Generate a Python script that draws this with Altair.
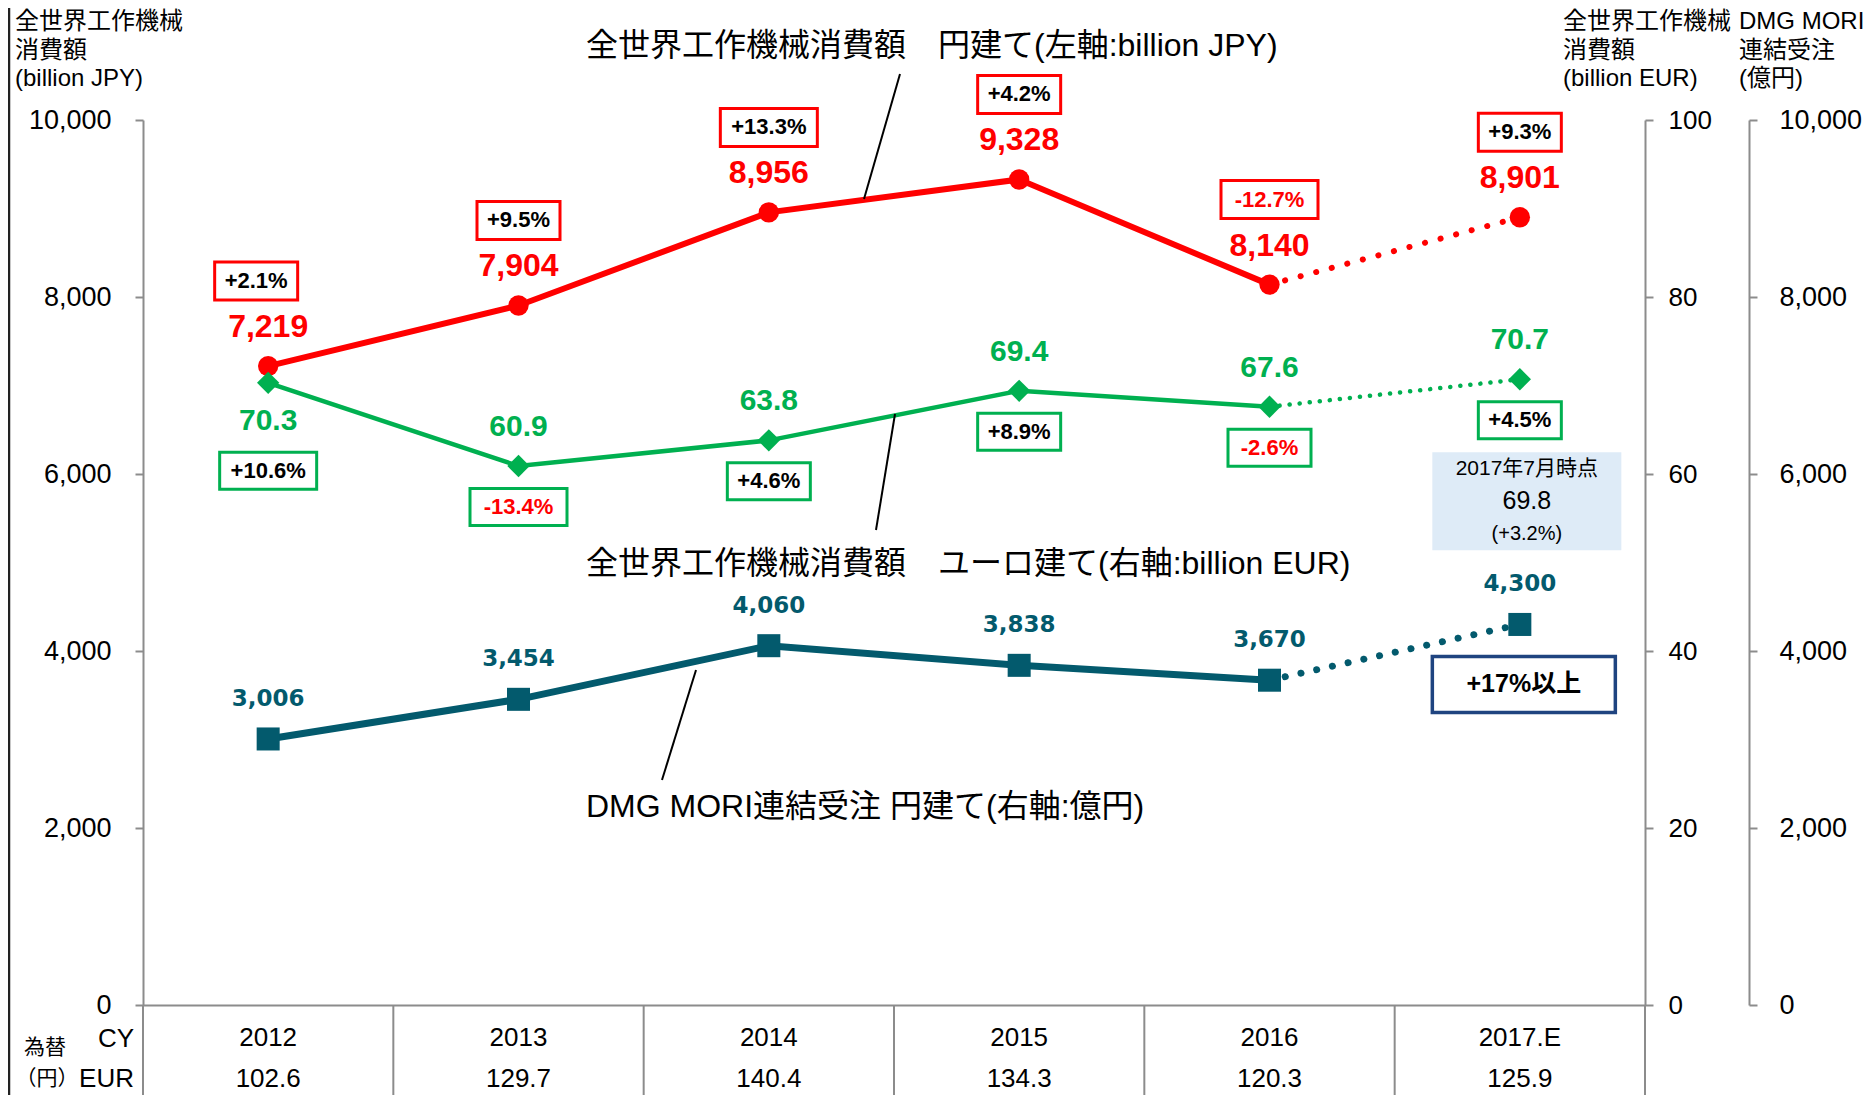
import altair as alt
import pandas as pd

# ---------------- data ----------------
years = ["2012", "2013", "2014", "2015", "2016", "2017.E"]
jpy_values = [7219, 7904, 8956, 9328, 8140, 8901]
jpy_change = ["+2.1%", "+9.5%", "+13.3%", "+4.2%", "-12.7%", "+9.3%"]
eur_values = [70.3, 60.9, 63.8, 69.4, 67.6, 70.7]
eur_change = ["+10.6%", "-13.4%", "+4.6%", "+8.9%", "-2.6%", "+4.5%"]
dmg_values = [3006, 3454, 4060, 3838, 3670, 4300]
fx_eur = ["102.6", "129.7", "140.4", "134.3", "120.3", "125.9"]
dmg_2017_note = "+17%以上"
eur_july_note = ["2017年7月時点", "69.8", "(+3.2%)"]
series_titles = [
    "全世界工作機械消費額\u2002\u2002円建て(左軸:billion JPY)",
    "全世界工作機械消費額\u2002\u2002ユーロ建て(右軸:billion EUR)",
    "DMG MORI連結受注 円建て(右軸:億円)",
]
axis_headers = [
    "全世界工作機械\n消費額\n(billion JPY)",
    "全世界工作機械\n消費額\n(billion EUR)",
    "DMG MORI\n連結受注\n(億円)",
]
row_labels = ["CY", "EUR"]
fx_caption = ["為替", "（円）"]
jpy_ticks = [0, 2000, 4000, 6000, 8000, 10000]
eur_ticks = [0, 20, 40, 60, 80, 100]

# ---------------- style ----------------
FONT = "Liberation Sans, Noto Sans CJK JP"
RED = "#FF0000"
GREEN = "#00B050"
TEAL = "#035A6D"
NAVY = "#1F4480"
GRAY = "#8C8C8C"
W, H = 1502, 885

df = pd.DataFrame({
    "year": years,
    "idx": list(range(len(years))),
    "jpy": jpy_values,
    "jc": jpy_change,
    "eur": eur_values,
    "ec": eur_change,
    "dmg": dmg_values,
    "fx": fx_eur,
})
one = pd.DataFrame({"a": [0]})

XAXIS = alt.Axis(labelAngle=0, labelFontSize=26, labelFont=FONT, labelColor="black",
                 ticks=False, domainColor=GRAY, domainWidth=2, labelPadding=19,
                 grid=False, title=None)


def X(band=0.5):
    return alt.X("year:N", sort=years, bandPosition=band,
                 scale=alt.Scale(type="band", paddingInner=0, paddingOuter=0),
                 axis=XAXIS, title=None)


def yaxis(orient, values, fmt, pad, offset=0, size=27):
    return alt.Axis(orient=orient, values=values, format=fmt, labelFontSize=size,
                    labelFont=FONT, labelColor="black", tickSize=8, tickColor=GRAY,
                    tickWidth=2, domainColor=GRAY, domainWidth=2, labelPadding=pad,
                    grid=False, title=None, offset=offset)


YJ = alt.Y("jpy:Q", scale=alt.Scale(domain=[0, 10000], nice=False),
           axis=yaxis("left", jpy_ticks, ",d", 24))
YE = alt.Y("eur:Q", scale=alt.Scale(domain=[0, 100], nice=False),
           axis=yaxis("right", eur_ticks, "d", 15, size=26))
YD = alt.Y("dmg:Q", scale=alt.Scale(domain=[0, 10000], nice=False),
           axis=yaxis("right", jpy_ticks, ",d", 22, 104))


def change_boxes(chg, y_enc, stroke, dy, dx=0, cond=None, h=38):
    base = alt.Chart()
    if cond:
        base = base.transform_filter(cond)
    base = base.transform_calculate(
        bw=f"14*length(datum.{chg})+13"
    ).transform_calculate(
        shp=f"'M-1,' + (-{h}/datum.bw) + 'H1V' + ({h}/datum.bw) + 'H-1Z'",
        sz="datum.bw*datum.bw",
        tc=f"indexof(datum.{chg}, '-') == 0 ? '{RED}' : 'black'",
    )
    box = base.mark_point(filled=True, fill="white", stroke=stroke, strokeWidth=3,
                          opacity=1, xOffset=dx, yOffset=dy).encode(
        x=X(), y=y_enc,
        shape=alt.Shape("shp:N", scale=None),
        size=alt.Size("sz:Q", scale=None))
    txt = base.mark_text(font=FONT, fontSize=22, fontWeight="bold", dx=dx, dy=dy,
                         baseline="middle").encode(
        x=X(), y=y_enc, text=f"{chg}:N", color=alt.Color("tc:N", scale=None))
    return [box, txt]


def line_pair(y_enc, color, width, dash):
    solid = alt.Chart().mark_line(color=color, strokeWidth=width).encode(
        x=X(), y=y_enc).transform_filter("datum.idx <= 4")
    dotted = alt.Chart().mark_line(color=color, strokeWidth=width, strokeDash=dash,
                                   strokeCap="round").encode(
        x=X(), y=y_enc).transform_filter("datum.idx >= 4")
    return [solid, dotted]


# ---------------- JPY series (red) ----------------
red = alt.layer(
    *line_pair(YJ, RED, 6, [0.1, 16]),
    alt.Chart().mark_point(shape="circle", filled=True, size=415, color=RED,
                           opacity=1).encode(x=X(), y=YJ),
    alt.Chart().mark_text(font=FONT, fontSize=32, fontWeight="bold", color=RED,
                          dy=-39, baseline="middle").encode(
        x=X(), y=YJ, text=alt.Text("jpy:Q", format=",")),
    *change_boxes("jc", YJ, RED, -85, dx=-12, cond="datum.idx == 0"),
    *change_boxes("jc", YJ, RED, -85, cond="datum.idx > 0"),
    data=df,
)

# ---------------- EUR series (green) ----------------
green = alt.layer(
    *line_pair(YE, GREEN, 4.5, [0.1, 10]),
    alt.Chart().mark_point(shape="diamond", filled=True, size=500, color=GREEN,
                           opacity=1).encode(x=X(), y=YE),
    alt.Chart().mark_text(font=FONT, fontSize=30, fontWeight="bold", color=GREEN,
                          dy=38, baseline="middle").encode(
        x=X(), y=YE, text=alt.Text("eur:Q", format=".1f")).transform_filter("datum.idx == 0"),
    alt.Chart().mark_text(font=FONT, fontSize=30, fontWeight="bold", color=GREEN,
                          dy=-39, baseline="middle").encode(
        x=X(), y=YE, text=alt.Text("eur:Q", format=".1f")).transform_filter("datum.idx > 0"),
    *change_boxes("ec", YE, GREEN, 88, cond="datum.idx == 0", h=37),
    *change_boxes("ec", YE, GREEN, 41, cond="datum.idx > 0", h=37),
    alt.Chart().mark_point(filled=True, fill="#DEEBF7", strokeWidth=0, opacity=1,
                           shape="M-1,-0.5185H1V0.5185H-1Z", size=189 * 189,
                           xOffset=7, yOffset=122).encode(
        x=X(), y=YE).transform_filter("datum.idx == 5"),
    alt.Chart().mark_text(font=FONT, fontSize=21, color="black", dx=7, dy=90,
                          baseline="middle").encode(
        x=X(), y=YE, text=alt.value(eur_july_note[0])).transform_filter("datum.idx == 5"),
    alt.Chart().mark_text(font=FONT, fontSize=25, color="black", dx=7, dy=122,
                          baseline="middle").encode(
        x=X(), y=YE, text=alt.value(eur_july_note[1])).transform_filter("datum.idx == 5"),
    alt.Chart().mark_text(font=FONT, fontSize=20, color="black", dx=7, dy=155,
                          baseline="middle").encode(
        x=X(), y=YE, text=alt.value(eur_july_note[2])).transform_filter("datum.idx == 5"),
    data=df,
)

# ---------------- DMG MORI orders (teal) ----------------
dmg = alt.layer(
    *line_pair(YD, TEAL, 7, [0.1, 16]),
    alt.Chart().mark_point(shape="square", filled=True, size=530, color=TEAL,
                           opacity=1).encode(x=X(), y=YD),
    alt.Chart().mark_text(font="DejaVu Sans", fontSize=23, fontWeight="bold", color=TEAL,
                          dy=-40, baseline="middle").encode(
        x=X(), y=YD, text=alt.Text("dmg:Q", format=",")),
    alt.Chart().mark_point(filled=True, fill="white", stroke=NAVY, strokeWidth=3.5,
                           opacity=1, shape="M-1,-0.306H1V0.306H-1Z", size=183 * 183,
                           xOffset=4, yOffset=60).encode(
        x=X(), y=YD).transform_filter("datum.idx == 5"),
    alt.Chart().mark_text(font=FONT, fontSize=25, fontWeight="bold", color="black",
                          dx=4, dy=60, baseline="middle").encode(
        x=X(), y=YD, text=alt.value(dmg_2017_note)).transform_filter("datum.idx == 5"),
    data=df,
)

# ---------------- table below the axis ----------------
table = alt.layer(
    alt.Chart().mark_rule(color=GRAY, strokeWidth=2).encode(
        x=X(0), y=alt.value(H), y2=alt.value(H + 100)),
    alt.Chart().mark_rule(color=GRAY, strokeWidth=2).encode(
        x=X(1), y=alt.value(H), y2=alt.value(H + 100)).transform_filter("datum.idx == 5"),
    alt.Chart().mark_text(font=FONT, fontSize=26, color="black", baseline="middle").encode(
        x=X(), y=alt.value(H + 74), text="fx:N"),
    data=df,
)


def free_text(txt, x, y, size, align="left", baseline="middle", weight="normal", **kw):
    return alt.Chart(one).mark_text(font=FONT, fontSize=size, align=align,
                                    baseline=baseline, fontWeight=weight,
                                    color="black", **kw).encode(
        x=alt.value(x), y=alt.value(y), text=alt.value(txt))


def callout(x1, y1, x2, y2):
    return alt.Chart(one).mark_rule(color="black", strokeWidth=2).encode(
        x=alt.value(x1), y=alt.value(y1), x2=alt.value(x2), y2=alt.value(y2))


annotations = [
    free_text(row_labels[0], -9, H + 34, 26, align="right"),
    free_text(row_labels[1], -9, H + 74, 26, align="right"),
    free_text(fx_caption[0], -98, H + 43, 21, align="center"),
    free_text(fx_caption[1], -96, H + 74, 21, align="center"),
    free_text(series_titles[0], 443, -74, 32),
    free_text(series_titles[1], 443, 444, 32),
    free_text(series_titles[2], 443, 687, 32),
    free_text(axis_headers[0], -128, -110, 24, baseline="top", lineBreak="\n", lineHeight=28.5),
    free_text(axis_headers[1], 1420, -110, 24, baseline="top", lineBreak="\n", lineHeight=28.5),
    free_text(axis_headers[2], 1596, -110, 24, baseline="top", lineBreak="\n", lineHeight=28.5),
    callout(757, -46, 721, 79),
    callout(752, 294, 733, 410),
    callout(553, 550, 519, 660),
    alt.Chart(one).mark_rule(color="#222222", strokeWidth=2.5).encode(
        x=alt.value(-134), y=alt.value(-112), y2=alt.value(H + 100)),
]

chart = alt.layer(red, green, dmg, table, *annotations).resolve_scale(
    y="independent"
).properties(
    width=W, height=H,
    padding={"left": 135, "top": 112, "right": 222, "bottom": 90},
    autosize=alt.AutoSizeParams(type="none"),
    background="white",
).configure_view(stroke=None)

chart.save("out.html", embed_options={"renderer": "svg", "actions": False})
